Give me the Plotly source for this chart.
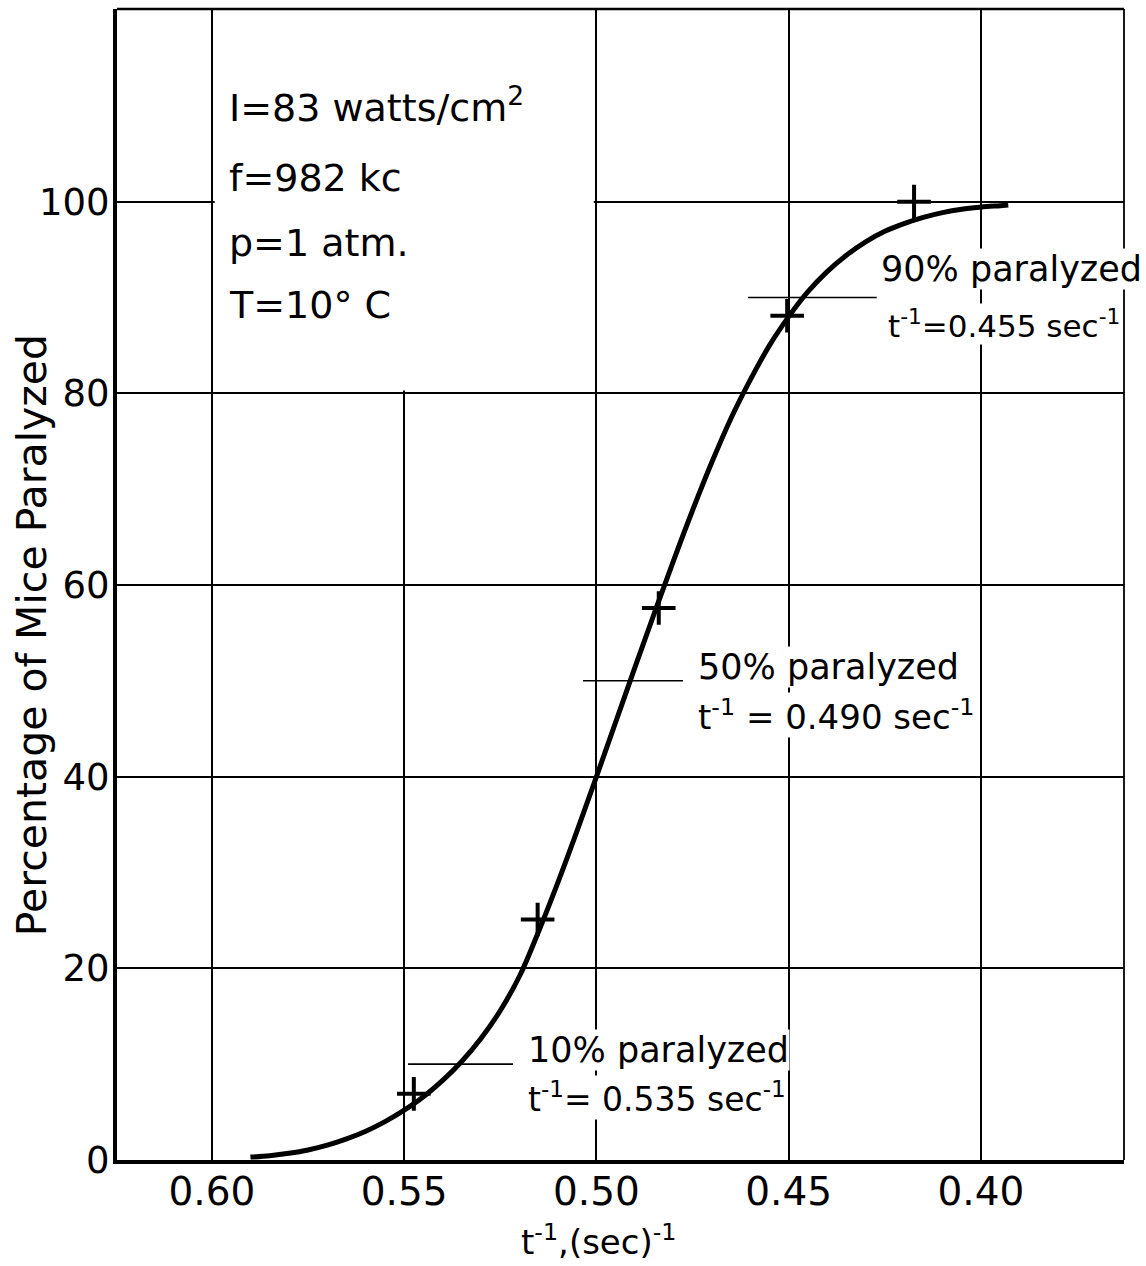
import plotly.graph_objects as go

# Observed points (t^-1 in sec^-1, % paralyzed)
obs_x = [0.5475, 0.5153, 0.4838, 0.4504, 0.4174]
obs_y = [6.9, 25.1, 57.6, 88.1, 100.0]

# Smooth fitted curve
curve_x = [0.590, 0.585, 0.580, 0.575, 0.570, 0.565, 0.560, 0.555, 0.550, 0.545,
           0.540, 0.535, 0.530, 0.525, 0.520, 0.515, 0.510, 0.505, 0.500, 0.495,
           0.490, 0.485, 0.480, 0.475, 0.470, 0.465, 0.460, 0.455, 0.450, 0.445,
           0.440, 0.435, 0.430, 0.425, 0.420, 0.415, 0.410, 0.405, 0.400, 0.395,
           0.3929]
curve_y = [0.3, 0.45, 0.7, 1.05, 1.55, 2.2, 3.0, 4.0, 5.2, 6.6,
           8.3, 10.3, 12.7, 15.6, 19.2, 23.9, 29.0, 34.4, 40.0, 45.7,
           51.4, 57.0, 62.5, 67.8, 72.8, 77.4, 81.4, 85.0, 88.0, 90.6,
           92.7, 94.4, 95.8, 96.9, 97.7, 98.35, 98.85, 99.2, 99.42, 99.58,
           99.65]

# Leader lines for the 10 / 50 / 90 % levels
leader_level = [10, 50, 90]
leader_x0 = [0.5490, 0.5035, 0.4606]
leader_x1 = [0.5217, 0.4775, 0.4271]

x_tickvals = [0.60, 0.55, 0.50, 0.45, 0.40]
x_ticktext = ["0.60", "0.55", "0.50", "0.45", "0.40"]
y_tickvals = [0, 20, 40, 60, 80, 100]
y_ticktext = ["0", "20", "40", "60", "80", "100"]

FONT = "DejaVu Sans"

fig = go.Figure()

# leader lines
lx, ly = [], []
for lv, a, b in zip(leader_level, leader_x0, leader_x1):
    lx += [a, b, None]
    ly += [lv, lv, None]
fig.add_trace(go.Scatter(x=lx, y=ly, mode="lines",
                         line=dict(color="black", width=1.6),
                         hoverinfo="skip", showlegend=False))

fig.add_trace(go.Scatter(x=curve_x, y=curve_y, mode="lines",
                         line=dict(color="black", width=5, shape="spline", smoothing=1.0),
                         showlegend=False))

fig.add_trace(go.Scatter(x=obs_x, y=obs_y, mode="markers",
                         marker=dict(symbol="cross-thin", size=24,
                                     line=dict(color="black", width=4)),
                         showlegend=False))

# mask gridlines behind the conditions text block
fig.add_shape(type="rect", xref="x", yref="y", x0=0.5993, x1=0.5007, y0=80.3, y1=121,
              fillcolor="white", line=dict(width=0), layer="between")

# top and right frame
fig.add_shape(type="line", xref="paper", yref="paper", x0=0, x1=1, y0=1, y1=1,
              line=dict(color="black", width=2.5))
fig.add_shape(type="line", xref="paper", yref="paper", x0=1, x1=1, y0=0, y1=1,
              line=dict(color="black", width=1.8))

cond_font = dict(family=FONT, size=38, color="black")
cond = [("I=83 watts/cm<sup>2</sup>", 110.1), ("f=982 kc", 102.5),
        ("p=1 atm.", 95.7), ("T=10° C", 89.2)]
for t, yv in cond:
    fig.add_annotation(x=0.5962, y=yv, xref="x", yref="y", text=t, showarrow=False,
                       xanchor="left", yanchor="middle", font=cond_font)

labels = [
    ("90% paralyzed", 0.4263, 93.0, 35),
    ("t<sup>-1</sup>=0.455 sec<sup>-1</sup>", 0.4245, 87.2, 31),
    ("50% paralyzed", 0.4739, 51.4, 35),
    ("t<sup>-1</sup> = 0.490 sec<sup>-1</sup>", 0.4739, 46.4, 34),
    ("10% paralyzed", 0.5181, 11.5, 35),
    ("t<sup>-1</sup>= 0.535 sec<sup>-1</sup>", 0.5181, 6.5, 33),
]
for t, xv, yv, fs in labels:
    fig.add_annotation(x=xv, y=yv, xref="x", yref="y", text=t, showarrow=False,
                       xanchor="left", yanchor="middle",
                       font=dict(family=FONT, size=fs, color="black"),
                       bgcolor="white", borderpad=0)

# axis titles
fig.add_annotation(x=-0.0844, y=0.4560, xref="paper", yref="paper",
                   text="Percentage of Mice Paralyzed", textangle=-90, showarrow=False,
                   xanchor="center", yanchor="middle",
                   font=dict(family=FONT, size=41, color="black"))
fig.add_annotation(x=0.4777, y=-0.0695, xref="paper", yref="paper",
                   text="t<sup>-1</sup>,(sec)<sup>-1</sup>", showarrow=False,
                   xanchor="center", yanchor="middle",
                   font=dict(family=FONT, size=34, color="black"))

fig.update_xaxes(range=[0.6247, 0.3628], tickvals=x_tickvals, ticktext=x_ticktext,
                 showgrid=True, gridcolor="black", gridwidth=1.5,
                 showline=True, linecolor="black", linewidth=4, mirror=False,
                 zeroline=False, ticks="", ticklabelstandoff=-6, automargin=False,
                 tickfont=dict(family=FONT, size=39, color="black"))
fig.update_yaxes(range=[0, 120.1], tickvals=y_tickvals, ticktext=y_ticktext,
                 showgrid=True, gridcolor="black", gridwidth=1.5,
                 showline=True, linecolor="black", linewidth=4, mirror=False,
                 zeroline=False, ticks="", ticklabelstandoff=-4, automargin=False,
                 tickfont=dict(family=FONT, size=37, color="black"))

fig.update_layout(width=1146, height=1266, paper_bgcolor="white", plot_bgcolor="white",
                  margin=dict(l=117, r=22, t=9, b=106), showlegend=False)

fig.write_html("out.html")
